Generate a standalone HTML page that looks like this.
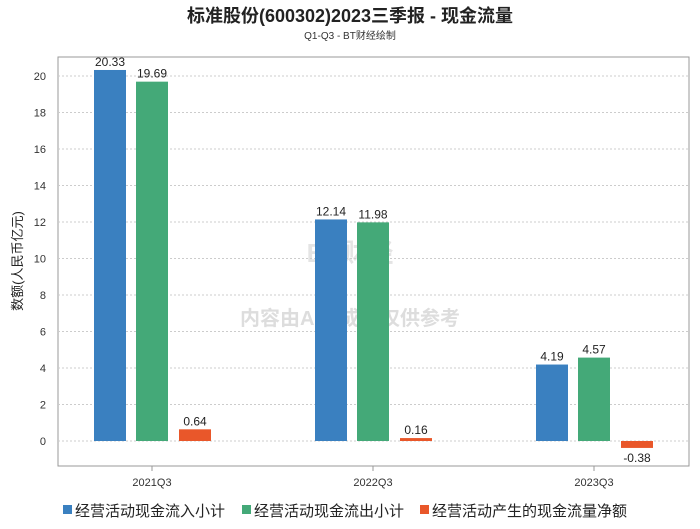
<!DOCTYPE html>
<html><head><meta charset="utf-8"><style>
body{margin:0;background:#fff;font-family:"Liberation Sans","Noto Sans CJK SC",sans-serif;}
</style></head><body>
<svg width="700" height="524" xmlns="http://www.w3.org/2000/svg" font-family="Liberation Sans, Noto Sans CJK SC, sans-serif">
<text x="350" y="22" text-anchor="middle" font-size="18" font-weight="bold" fill="#222">标准股份(600302)2023三季报 - 现金流量</text>
<text x="350" y="39" text-anchor="middle" font-size="10" fill="#333">Q1-Q3 - BT财经绘制</text>
<rect x="58" y="57" width="631" height="409" fill="none" stroke="#999"/>
<text x="350" y="325" text-anchor="middle" font-size="20" fill="#ddd" font-weight="bold">内容由AI生成，仅供参考</text>
<text x="350" y="262" text-anchor="middle" font-size="26" fill="#e4e4e4" font-weight="bold">BT财经</text>
<text transform="translate(22,261) rotate(-90)" text-anchor="middle" font-size="13" fill="#222">数额(人民币亿元)</text>
<g id="grid"></g><g id="bars"></g><g id="xl"></g>
<g font-size="15" fill="#222">
<rect x="63" y="505" width="9" height="9" fill="#3a80c0"/><text x="75" y="516">经营活动现金流入小计</text>
<rect x="242" y="505" width="9" height="9" fill="#44a978"/><text x="254" y="516">经营活动现金流出小计</text>
<rect x="420" y="505" width="9" height="9" fill="#e9572a"/><text x="432" y="516">经营活动产生的现金流量净额</text>
</g>
</svg>
<script>
const categories=["2021Q3","2022Q3","2023Q3"];
const inflow=[20.33,12.14,4.19];
const outflow=[19.69,11.98,4.57];
const net=[0.64,0.16,-0.38];
const yTicks=[0,2,4,6,8,10,12,14,16,18,20];
const NS="http://www.w3.org/2000/svg";
const y=v=>441-v*18.25;
const left=58,right=689;
const x=i=>152+221*i;
function mk(t,a,p,txt){const e=document.createElementNS(NS,t);for(const k in a)e.setAttribute(k,a[k]);if(txt!=null)e.textContent=txt;p.appendChild(e);return e;}
const grid=document.getElementById('grid');
yTicks.forEach(t=>{
 const l=mk('line',{x1:left,x2:right,y1:y(t),y2:y(t),stroke:'#ccc','stroke-dasharray':'2,2'},grid);
 
 
 const tx=mk('text',{x:left-12,y:y(t)+4,'text-anchor':'end','font-size':11,fill:'#333'},grid,t);
 
 
});
const bars=document.getElementById('bars');
const series=[[inflow,'#3a80c0',-42],[outflow,'#44a978',0],[net,'#e9572a',43]];
series.forEach(([vals,c,off])=>{
 vals.forEach((v,i)=>{
  const cx=x(i)+off;
  const r=mk('rect',{x:cx-16,y:Math.min(y(v),y(0)),width:32,height:Math.abs(y(v)-y(0)),fill:c},bars);
  
  
  const ty=v>=0?y(v)-4:y(v)+14;
  const t=mk('text',{x:cx,y:ty,'text-anchor':'middle','font-size':12,fill:'#222'},bars,v.toFixed(2));
  
  
 });
});
const xl=document.getElementById('xl');
categories.forEach((c,i)=>{
 const t=mk('text',{x:x(i),y:486,'text-anchor':'middle','font-size':11,fill:'#333'},xl,c);
 
 
 const k=mk('line',{x1:x(i),x2:x(i),y1:466,y2:471,stroke:'#999'},xl);
 
 
});
</script>
</body></html>
